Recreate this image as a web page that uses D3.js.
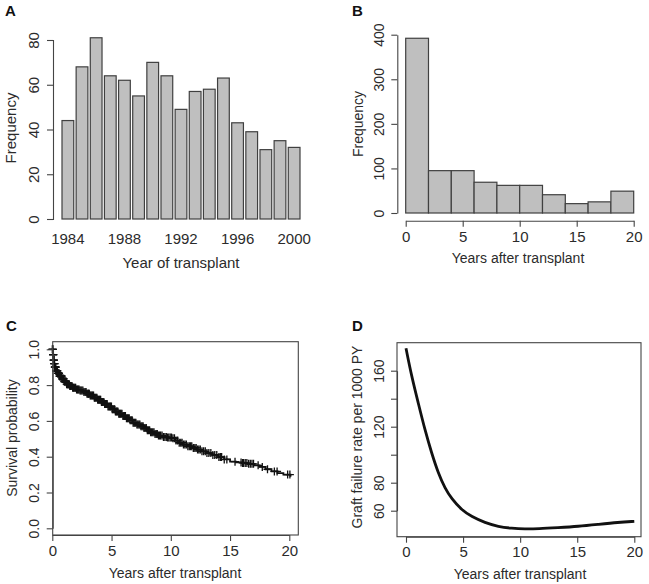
<!DOCTYPE html>
<html>
<head>
<meta charset="utf-8">
<script src="https://cdn.jsdelivr.net/npm/d3@7"></script>
<style>
  html, body { margin: 0; padding: 0; background: #fff; }
  svg { display: block; font-family: "Liberation Sans", Arial, sans-serif; }
</style>
</head>
<body>
<svg id="chart" width="649" height="584"></svg>
<script>
// ---------- DATA ----------
// Panel A: transplants per year
const yearsA = [1984,1985,1986,1987,1988,1989,1990,1991,1992,1993,1994,1995,1996,1997,1998,1999,2000];
const countsA = [44,68,81,64,62,55,70,64,49,57,58,63,43,39,31,35,32];
const yearLabelsA = [1984,1988,1992,1996,2000];
const yTicksA = [0,20,40,60,80];

// Panel B: histogram of follow-up (2-year bins)
const binStartsB = [0,2,4,6,8,10,12,14,16,18];
const binWidthB = 2;
const countsB = [392,95,95,69,62,62,41,21,25,49];
const xTicksB = [0,5,10,15,20];
const yTicksB = [0,100,200,300,400];

// Panel C: Kaplan-Meier survival (time, probability)
const kmTimes = [0,0.05,0.1,0.15,0.2,0.3,0.45,0.6,0.8,1.0,1.2,1.45,1.7,2.0,2.3,2.6,2.9,3.2,3.5,3.8,4.1,4.4,4.7,5.0,5.3,5.6,5.9,6.2,6.5,6.8,7.1,7.4,7.7,8.0,8.3,8.6,8.9,9.3,9.7,10.1,10.4,10.7,11.0,11.4,11.8,12.2,12.6,13.0,13.5,14.0,14.5,15.0,15.5,16.0,16.5,17.0,17.5,18.0,18.5,19.0,19.5,20.1];
const kmSurv  = [1.0,0.97,0.94,0.92,0.90,0.88,0.865,0.85,0.835,0.82,0.805,0.795,0.785,0.775,0.77,0.762,0.752,0.742,0.73,0.718,0.705,0.695,0.68,0.665,0.652,0.64,0.628,0.615,0.603,0.59,0.58,0.57,0.56,0.548,0.537,0.527,0.518,0.51,0.507,0.503,0.49,0.478,0.468,0.458,0.449,0.44,0.43,0.42,0.41,0.398,0.385,0.372,0.368,0.365,0.36,0.352,0.343,0.33,0.318,0.308,0.3,0.288];
const censorTimes = [0.01,0.02,0.03,0.04,0.06,0.07,0.08,0.09,0.11,0.12,0.14,0.16,0.17,0.19,0.21,0.22,0.24,0.26,0.27,0.29,0.31,0.33,0.34,0.36,0.38,0.41,0.43,0.46,0.49,0.52,0.55,0.57,0.61,0.63,0.66,0.68,0.71,0.74,0.77,0.79,0.83,0.86,0.89,0.93,0.97,1.01,1.04,1.08,1.12,1.16,1.21,1.27,1.31,1.36,1.42,1.48,1.53,1.59,1.66,1.72,1.78,1.84,1.91,1.97,2.05,2.12,2.19,2.26,2.34,2.41,2.49,2.58,2.67,2.77,2.85,2.93,3.0,3.04,3.08,3.12,3.2,3.27,3.34,3.41,3.48,3.55,3.61,3.68,3.76,3.83,3.9,3.97,4.03,4.08,4.15,4.22,4.28,4.35,4.42,4.49,4.56,4.63,4.7,4.78,4.85,4.92,4.99,5.06,5.12,5.19,5.26,5.33,5.4,5.46,5.53,5.61,5.68,5.74,5.81,5.88,5.96,6.03,6.1,6.17,6.26,6.34,6.41,6.49,6.57,6.66,6.74,6.82,6.9,6.97,7.05,7.14,7.22,7.31,7.39,7.48,7.57,7.66,7.74,7.83,7.93,8.02,8.11,8.21,8.3,8.39,8.48,8.58,8.67,8.77,8.86,8.96,9.05,9.14,9.26,9.38,9.5,9.62,9.72,9.83,9.95,10.06,10.18,10.31,10.44,10.58,10.71,10.84,10.95,11.07,11.19,11.31,11.44,11.56,11.67,11.77,11.9,12.03,12.14,12.26,12.37,12.49,12.63,12.77,12.91,13.05,13.21,13.38,13.55,13.71,13.88,14.06,14.18,14.29,14.51,14.73,15.42,15.93,16.06,16.14,16.28,16.42,16.57,16.71,16.85,16.98,17.37,17.72,18.16,18.74,18.97,19.86,20.05];
const xTicksC = [0,5,10,15,20];
const yTicksC = [0,0.2,0.4,0.6,0.8,1.0];

// Panel D: graft failure hazard per 1000 PY
const hazTimes = [0,0.5,1.08,1.66,2.25,2.83,3.42,4.0,4.88,5.75,6.92,8.09,9.26,10.4,11.6,13.3,15.1,16.8,18.6,20];
const hazRate  = [176,155.7,136.7,117.6,101,86.7,76.0,68.5,60.5,55.7,51.4,48.6,47.4,46.9,47.1,47.9,48.8,50.2,51.7,52.4];
const xTicksD = [0,5,10,15,20];
const yTicksD = [60,80,100,120,140,160];
const yLabelsD = [60,80,120,160];

// ---------- STYLE ----------
const INK = "#2b2b2b";
const AXIS = "#444";
const FS = 14;
const svg = d3.select("#chart");
svg.append("rect").attr("width",649).attr("height",584).attr("fill","#fff");

function styleAxis(g, fs) {
  g.selectAll("path.domain").attr("stroke", AXIS).attr("stroke-width", 1.1);
  g.selectAll(".tick line").attr("stroke", AXIS).attr("stroke-width", 1.1);
  g.selectAll(".tick text").attr("fill", INK).attr("font-size", fs || FS)
    .attr("font-family", "Liberation Sans, Arial, sans-serif");
}
// rotate y tick labels like R (las = 0)
function rotateYLabels(g, offset) {
  g.selectAll(".tick text")
    .attr("transform", "rotate(-90)")
    .attr("x", 0).attr("y", -offset).attr("dy", null)
    .attr("text-anchor", "middle")
    .attr("dominant-baseline", "central");
}
function label(x, y, txt, rot, size, bold) {
  svg.append("text")
    .attr("transform", `translate(${x},${y})` + (rot ? " rotate(-90)" : ""))
    .attr("text-anchor", "middle").attr("dominant-baseline", "central")
    .attr("font-size", size || FS).attr("fill", INK)
    .attr("font-weight", bold ? "bold" : "normal")
    .text(txt);
}
function panelLetter(x, y, txt) {
  svg.append("text").attr("x", x).attr("y", y)
    .attr("font-size", 15).attr("font-weight", "bold").attr("fill", "#111").text(txt);
}

// ---------- PANEL A ----------
{
  const x = d3.scaleBand().domain(yearsA).range([62, 300]).paddingInner(0.17).paddingOuter(0);
  const y = d3.scaleLinear().domain([0, 80]).range([219, 40]);
  svg.append("g").selectAll("rect").data(yearsA).join("rect")
    .attr("x", d => x(d)).attr("width", x.bandwidth())
    .attr("y", (d,i) => y(countsA[i])).attr("height", (d,i) => y(0) - y(countsA[i]))
    .attr("fill", "#bfbfbf").attr("stroke", "#404040").attr("stroke-width", 1.2);
  const gy = svg.append("g").attr("transform", "translate(53,0)")
    .call(d3.axisLeft(y).tickValues(yTicksA).tickSize(6).tickFormat(d3.format("d")));
  styleAxis(gy, 15); rotateYLabels(gy, 20);
  const gx = svg.append("g").attr("transform", "translate(0,228)")
    .call(d3.axisBottom(x).tickValues(yearLabelsA).tickSize(0).tickPadding(0));
  gx.select("path.domain").remove();
  styleAxis(gx, 15);
  gx.selectAll(".tick text").attr("dy", null).attr("y", 10).attr("dominant-baseline", "central");
  label(181, 262, "Year of transplant", false, 15);
  label(10, 128, "Frequency", true, 15);
  panelLetter(5, 16, "A");
}

// ---------- PANEL B ----------
{
  const x = d3.scaleLinear().domain([0, 20]).range([405.7, 633.7]);
  const y = d3.scaleLinear().domain([0, 400]).range([213, 34.7]);
  svg.append("g").selectAll("rect").data(binStartsB).join("rect")
    .attr("x", d => x(d)).attr("width", d => x(d + binWidthB) - x(d))
    .attr("y", (d,i) => y(countsB[i])).attr("height", (d,i) => y(0) - y(countsB[i]))
    .attr("fill", "#bfbfbf").attr("stroke", "#404040").attr("stroke-width", 1.2);
  const gy = svg.append("g").attr("transform", "translate(397.3,0)")
    .call(d3.axisLeft(y).tickValues(yTicksB).tickSize(6).tickFormat(d3.format("d")).tickSizeOuter(0));
  styleAxis(gy); rotateYLabels(gy, 18);
  const gx = svg.append("g").attr("transform", "translate(0,220.7)")
    .call(d3.axisBottom(x).tickValues(xTicksB).tickSize(6).tickSizeOuter(0).tickFormat(d3.format("d")));
  styleAxis(gx, 15);
  gx.selectAll(".tick text").attr("dy", null).attr("y", 16).attr("dominant-baseline", "central");
  label(518, 258, "Years after transplant");
  label(357.5, 124, "Frequency", true);
  panelLetter(352, 16, "B");
}

// ---------- PANEL C ----------
{
  const box = {l: 52.7, r: 298.3, t: 341.7, b: 535};
  const x = d3.scaleLinear().domain([0, 20]).range([52.3, 289.3]);
  const y = d3.scaleLinear().domain([0, 1]).range([528.3, 349.3]);
  const pts = kmTimes.map((t,i) => [t, kmSurv[i]]);
  svg.append("path").datum(pts)
    .attr("d", d3.line().x(d => x(d[0])).y(d => y(d[1])).curve(d3.curveStepAfter))
    .attr("fill", "none").attr("stroke", "#111").attr("stroke-width", 1.8);
  const survAt = t => { let s = kmSurv[0]; for (let i = 0; i < kmTimes.length; i++) { if (kmTimes[i] <= t) s = kmSurv[i]; } return s; };
  svg.append("g").selectAll("path").data(censorTimes).join("path")
    .attr("transform", d => `translate(${x(d)},${y(survAt(d))})`)
    .attr("d", "M-4,0H4M0,-4V4")
    .attr("stroke", "#111").attr("stroke-width", 1.3).attr("fill", "none");
  svg.append("rect").attr("x", box.l).attr("y", box.t).attr("width", box.r - box.l).attr("height", box.b - box.t)
    .attr("fill", "none").attr("stroke", AXIS).attr("stroke-width", 1.1);
  const gy = svg.append("g").attr("transform", `translate(${box.l},0)`)
    .call(d3.axisLeft(y).tickValues(yTicksC).tickSize(6).tickSizeOuter(0).tickFormat(d3.format(".1f")));
  styleAxis(gy); rotateYLabels(gy, 19);
  const gx = svg.append("g").attr("transform", `translate(0,${box.b})`)
    .call(d3.axisBottom(x).tickValues(xTicksC).tickSize(6).tickSizeOuter(0).tickFormat(d3.format("d")));
  styleAxis(gx, 15);
  gx.selectAll(".tick text").attr("dy", null).attr("y", 15).attr("dominant-baseline", "central");
  label(175, 573, "Years after transplant");
  label(12, 438, "Survival probability", true);
  panelLetter(6, 331, "C");
}

// ---------- PANEL D ----------
{
  const box = {l: 397, r: 641, t: 342.7, b: 536.7};
  const x = d3.scaleLinear().domain([0, 20]).range([406, 634.3]);
  const y = d3.scaleLinear().domain([60, 160]).range([510.7, 370.7]);
  const pts = hazTimes.map((t,i) => [t, hazRate[i]]);
  svg.append("path").datum(pts)
    .attr("d", d3.line().x(d => x(d[0])).y(d => y(d[1])).curve(d3.curveBasis))
    .attr("fill", "none").attr("stroke", "#111").attr("stroke-width", 2.8);
  svg.append("rect").attr("x", box.l).attr("y", box.t).attr("width", box.r - box.l).attr("height", box.b - box.t)
    .attr("fill", "none").attr("stroke", AXIS).attr("stroke-width", 1.1);
  const gy = svg.append("g").attr("transform", `translate(${box.l},0)`)
    .call(d3.axisLeft(y).tickValues(yTicksD).tickSize(6).tickSizeOuter(0)
      .tickFormat(d => yLabelsD.includes(d) ? d3.format("d")(d) : ""));
  styleAxis(gy); rotateYLabels(gy, 18);
  const gx = svg.append("g").attr("transform", `translate(0,${box.b})`)
    .call(d3.axisBottom(x).tickValues(xTicksD).tickSize(6).tickSizeOuter(0).tickFormat(d3.format("d")));
  styleAxis(gx, 15);
  gx.selectAll(".tick text").attr("dy", null).attr("y", 15).attr("dominant-baseline", "central");
  label(520, 574, "Years after transplant");
  label(357, 437, "Graft failure rate per 1000 PY", true);
  panelLetter(352, 331, "D");
}
</script>
</body>
</html>
